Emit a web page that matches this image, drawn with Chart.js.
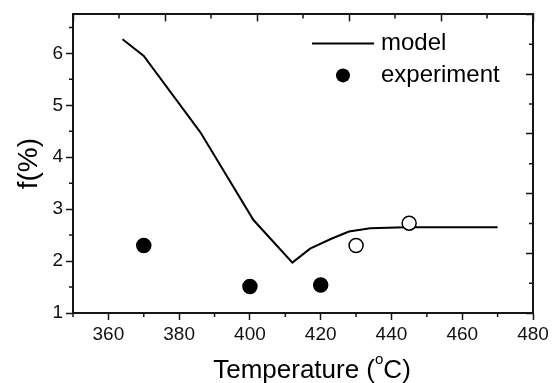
<!DOCTYPE html>
<html lang="en">
  <head>
    <meta charset="UTF-8" />
    <title>f vs temperature</title>
    <script src="https://cdn.jsdelivr.net/npm/chart.js"></script>
    <style>
      body { margin: 0; background: #fff; }
      #wrap { width: 554px; height: 383px; }
    </style>
  </head>
  <body>
    <div id="wrap"><canvas id="fchart" width="554" height="383"></canvas></div>
    <script>
      // model curve (temperature in C, f in %)
      const modelT = [364, 370, 386, 401, 412, 417, 423, 428, 434, 444, 470];
      const modelF = [6.27, 5.95, 4.48, 2.79, 1.97, 2.24, 2.43, 2.57, 2.63, 2.65, 2.65];

      // measured points, last two drawn hollow
      const expT = [370, 400, 420, 430, 445];
      const expF = [2.30, 1.51, 1.54, 2.30, 2.73];
      const expFilled = [true, true, true, false, false];

      const labelModel = 'model';
      const labelExp = 'experiment';
      const xTitle = ['Temperature (', 'o', 'C)'];
      const yTitle = 'f(%)';

      const FONT = "'Liberation Sans', Arial, sans-serif";
      const ink = '#161616';
      const minorLen = 4;

      // half-step ticks that Chart.js has no option for
      const minorTicks = {
        id: 'minorTicks',
        afterDraw(chart) {
          const ctx = chart.ctx, a = chart.chartArea;
          ctx.save();
          ctx.strokeStyle = ink;
          ctx.lineWidth = 1.5;
          ctx.beginPath();
          Object.values(chart.scales).forEach(s => {
            const step = s.options.ticks.stepSize, half = step / 2;
            for (let v = Math.ceil(s.min / half) * half; v <= s.max + 1e-9; v += half) {
              if (Math.abs(v / step - Math.round(v / step)) < 1e-6) continue;
              const p = s.getPixelForValue(v);
              if (s.id === 'x') { ctx.moveTo(p, a.bottom); ctx.lineTo(p, a.bottom + minorLen); }
              if (s.id === 'x2') { ctx.moveTo(p, a.top); ctx.lineTo(p, a.top + minorLen); }
              if (s.id === 'y') { ctx.moveTo(a.left, p); ctx.lineTo(a.left - minorLen, p); }
              if (s.id === 'y2') { ctx.moveTo(a.right, p); ctx.lineTo(a.right - minorLen, p); }
            }
          });
          ctx.stroke();
          ctx.restore();
        }
      };

      // legend in the upper right of the plot + x title with superscript o
      const extras = {
        id: 'extras',
        afterDraw(chart) {
          const ctx = chart.ctx, a = chart.chartArea;
          const ds = chart.data.datasets;
          ctx.save();
          ctx.font = '24px ' + FONT;
          ctx.fillStyle = '#000';
          ctx.textBaseline = 'middle';
          const lx = a.right - 221, tx = a.right - 152;
          let y = a.top + 29;
          ctx.strokeStyle = ds[0].borderColor;
          ctx.lineWidth = ds[0].borderWidth;
          ctx.beginPath(); ctx.moveTo(lx, y); ctx.lineTo(lx + 62, y); ctx.stroke();
          ctx.fillText(ds[0].label, tx, y);
          y += 32;
          ctx.beginPath(); ctx.arc(lx + 31, y, 7, 0, Math.PI * 2); ctx.fillStyle = '#000'; ctx.fill();
          ctx.fillText(ds[1].label, tx, y);

          // x axis title
          ctx.textBaseline = 'alphabetic';
          ctx.font = '26px ' + FONT;
          const w0 = ctx.measureText(xTitle[0]).width, w2 = ctx.measureText(xTitle[2]).width;
          ctx.font = '15px ' + FONT;
          const w1 = ctx.measureText(xTitle[1]).width;
          let x = (a.left + a.right) / 2 + 9 - (w0 + w1 + w2) / 2;
          const base = 378;
          ctx.font = '26px ' + FONT;
          ctx.fillText(xTitle[0], x, base); x += w0;
          ctx.font = '15px ' + FONT;
          ctx.fillText(xTitle[1], x, base - 14); x += w1;
          ctx.font = '26px ' + FONT;
          ctx.fillText(xTitle[2], x, base);
          ctx.restore();
        }
      };

      const modelData = modelT.map((t, i) => ({ x: t, y: modelF[i] }));
      const expData = expT.map((t, i) => ({ x: t, y: expF[i] }));

      const chart = new Chart(document.getElementById('fchart'), {
        type: 'scatter',
        data: {
          datasets: [{
            label: labelModel,
            data: modelData,
            showLine: true,
            borderColor: '#000',
            borderWidth: 2,
            pointRadius: 0,
            tension: 0,
            order: 2
          }, {
            label: labelExp,
            data: expData,
            showLine: false,
            pointRadius: 7,
            pointBorderWidth: 1.5,
            pointBorderColor: '#000',
            pointBackgroundColor: expFilled.map(f => f ? '#000' : '#fff'),
            order: 1
          }]
        },
        options: {
          responsive: false,
          animation: false,
          layout: { padding: { top: 11, right: 21, bottom: 0, left: 0 } },
          plugins: { legend: { display: false }, tooltip: { enabled: false } },
          scales: {
            x: {
              type: 'linear', position: 'bottom',
              min: 350, max: 480,
              afterFit: s => { s.height = 70; },
              border: { color: ink, width: 2 },
              grid: { drawOnChartArea: false, tickLength: 7, tickWidth: 1.5, tickColor: ink },
              ticks: { stepSize: 20, includeBounds: false, color: '#111', padding: 3, font: { family: FONT, size: 19 } }
            },
            y: {
              type: 'linear', position: 'left',
              min: 1, max: 6.75,
              afterFit: s => { s.width = 73; },
              border: { color: ink, width: 2 },
              grid: { drawOnChartArea: false, tickLength: 7, tickWidth: 1.5, tickColor: ink },
              ticks: { stepSize: 1, includeBounds: false, color: '#111', padding: 3, font: { family: FONT, size: 19 } },
              title: { display: true, text: yTitle, color: '#000', padding: { top: 12, bottom: 0 }, font: { family: FONT, size: 28 } }
            },
            x2: {
              type: 'linear', position: 'top',
              min: 0, max: 5,
              afterFit: s => { s.height = 0; },
              border: { color: ink, width: 2 },
              grid: { drawOnChartArea: false, tickLength: -7, tickWidth: 1.5, tickColor: ink },
              ticks: { display: false, stepSize: 1 }
            },
            y2: {
              type: 'linear', position: 'right',
              min: 0, max: 5,
              afterFit: s => { s.width = 0; },
              border: { color: ink, width: 2 },
              grid: { drawOnChartArea: false, tickLength: -7, tickWidth: 1.5, tickColor: ink },
              ticks: { display: false, stepSize: 1 }
            }
          }
        },
        plugins: [minorTicks, extras]
      });
    </script>
  </body>
</html>
